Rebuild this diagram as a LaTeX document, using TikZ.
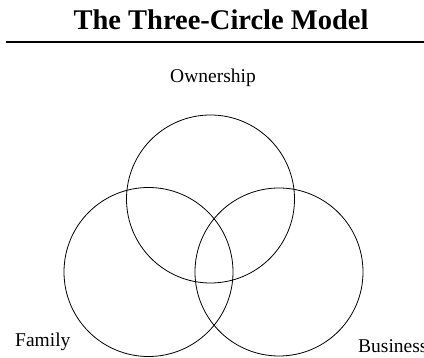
\documentclass[tikz,border=0pt]{standalone}
\usepackage{fontspec}
\setmainfont{Liberation Serif}
\begin{document}
\begin{tikzpicture}[x=1pt,y=-1pt]
	\useasboundingbox (0, 0) rectangle (424, 358);

	\draw (221, 30) node[anchor = base,
					  font = \fontsize{28.5}{32}\selectfont\bfseries
			   ](title){The Three-Circle Model};
	\draw[line width = 2pt] (6, 42.5) -- (424, 42.5);

	\draw (210.5, 199) node[draw = black,
					  shape = circle,
					  line width = 0.8pt,
					  minimum size = 168pt,
					  inner sep = 0pt
			   ](O){};
	\draw (148.5, 272) node[draw = black,
					  shape = circle,
					  line width = 0.8pt,
					  minimum size = 169pt,
					  inner sep = 0pt
			   ](F){};
	\draw (279, 272) node[draw = black,
					  shape = circle,
					  line width = 0.8pt,
					  minimum size = 168pt,
					  inner sep = 0pt
			   ](B){};

	\draw (213, 83) node[anchor = base,
					  font = \fontsize{19.5}{22}\selectfont
			   ](own){Ownership};
	\draw (15, 347) node[anchor = base west,
					  inner sep = 0pt,
					  font = \fontsize{19.5}{22}\selectfont
			   ](fam){Family};
	\draw (358, 353) node[anchor = base west,
					  inner sep = 0pt,
					  font = \fontsize{19.5}{22}\selectfont
			   ](bus){Business};
\end{tikzpicture}
\end{document}
